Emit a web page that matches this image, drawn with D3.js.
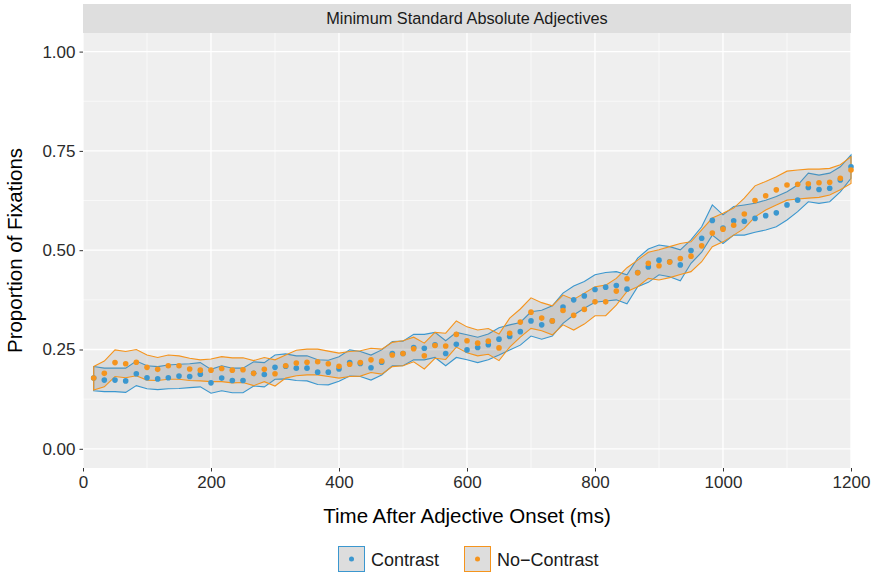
<!DOCTYPE html>
<html>
<head>
<meta charset="utf-8">
<script src="https://cdn.jsdelivr.net/npm/d3@7"></script>
<style>
  body { margin: 0; background: #fff; }
  svg { display: block; font-family: "Liberation Sans", Arial, sans-serif; }
</style>
</head>
<body>
<svg id="chart" width="878" height="573"></svg>
<script>
// time bins (ms after adjective onset)
const timeMs = [16.7, 33.3, 50, 66.7, 83.3, 100, 116.7, 133.3, 150, 166.7, 183.3, 200,
  216.7, 233.3, 250, 266.7, 283.3, 300, 316.7, 333.3, 350, 366.7, 383.3, 400,
  416.7, 433.3, 450, 466.7, 483.3, 500, 516.7, 533.3, 550, 566.7, 583.3, 600,
  616.7, 633.3, 650, 666.7, 683.3, 700, 716.7, 733.3, 750, 766.7, 783.3, 800,
  816.7, 833.3, 850, 866.7, 883.3, 900, 916.7, 933.3, 950, 966.7, 983.3, 1000,
  1016.7, 1033.3, 1050, 1066.7, 1083.3, 1100, 1116.7, 1133.3, 1150, 1166.7, 1183.3, 1200];

// Contrast
const contrastMean = [.178,.173,.173,.171,.189,.179,.176,.179,.183,.182,
  .188,.166,.178,.172,.172,.190,.187,.205,.208,.203,
  .203,.193,.193,.201,.217,.215,.204,.218,.240,.240,
  .255,.253,.262,.240,.263,.249,.255,.262,.276,.283,
  .295,.322,.312,.322,.357,.375,.385,.401,.407,.411,
  .402,.444,.458,.475,.471,.463,.499,.530,.575,.556,
  .574,.573,.580,.587,.594,.614,.626,.658,.653,.656,
  .677,.710];
const contrastUpper = [.207,.203,.203,.203,.221,.209,.207,.211,.213,.214,
  .217,.200,.209,.203,.203,.219,.217,.236,.239,.234,
  .234,.224,.223,.232,.249,.245,.236,.249,.270,.271,
  .288,.288,.293,.272,.293,.287,.281,.289,.305,.312,
  .318,.345,.349,.360,.392,.410,.421,.438,.444,.446,
  .438,.480,.503,.513,.509,.501,.526,.559,.614,.589,
  .610,.614,.618,.626,.635,.647,.664,.694,.689,.694,
  .710,.740];
const contrastLower = [.146,.144,.144,.142,.159,.151,.149,.151,.152,.154,
  .156,.140,.146,.141,.141,.158,.156,.175,.176,.172,
  .171,.162,.161,.170,.183,.182,.173,.186,.209,.209,
  .224,.224,.230,.209,.230,.224,.217,.224,.236,.249,
  .261,.284,.276,.284,.316,.337,.354,.369,.372,.375,
  .365,.408,.419,.438,.433,.423,.467,.495,.538,.517,
  .538,.538,.545,.551,.559,.576,.597,.622,.618,.622,
  .647,.681];

// No-Contrast
const noContrastMean = [.178,.190,.217,.214,.218,.205,.200,.209,.209,.201,
  .198,.198,.202,.198,.199,.190,.200,.189,.209,.216,
  .218,.219,.214,.208,.213,.217,.224,.221,.236,.240,
  .252,.234,.260,.259,.288,.272,.266,.271,.254,.291,
  .319,.344,.329,.322,.348,.336,.351,.370,.370,.397,
  .428,.443,.467,.461,.470,.479,.485,.511,.543,.553,
  .563,.591,.625,.637,.652,.664,.666,.667,.670,.671,
  .681,.702];
const noContrastUpper = [.207,.221,.249,.245,.250,.236,.230,.236,.234,.228,
  .224,.226,.232,.229,.229,.222,.230,.224,.236,.248,
  .251,.251,.246,.241,.245,.247,.253,.251,.268,.272,
  .281,.266,.293,.291,.322,.307,.299,.303,.289,.329,
  .352,.380,.368,.360,.387,.376,.392,.408,.412,.429,
  .456,.475,.495,.501,.509,.517,.521,.551,.581,.593,
  .606,.631,.662,.673,.685,.699,.702,.704,.704,.706,
  .715,.735];
const noContrastLower = [.148,.156,.182,.179,.184,.173,.172,.175,.175,.172,
  .171,.169,.169,.166,.167,.159,.169,.158,.178,.184,
  .186,.186,.182,.178,.182,.183,.192,.188,.207,.209,
  .219,.201,.228,.225,.256,.242,.234,.238,.222,.256,
  .281,.303,.297,.287,.312,.299,.314,.335,.335,.362,
  .396,.408,.429,.425,.431,.439,.446,.471,.509,.521,
  .538,.555,.584,.601,.614,.626,.629,.631,.633,.639,
  .652,.668];

const conditions = ['Contrast', 'No\u2212Contrast'];
const xTicks = [0, 200, 400, 600, 800, 1000, 1200];
const xMinor = [100, 300, 500, 700, 900, 1100];
const yTicks = [0, 0.25, 0.5, 0.75, 1];
const yMinor = [0.125, 0.375, 0.625, 0.875];

const colors = { 'Contrast': '#3b97cf', 'No\u2212Contrast': '#f5941d' };

const series = [
  { name: conditions[0], mean: contrastMean, lo: contrastLower, hi: contrastUpper },
  { name: conditions[1], mean: noContrastMean, lo: noContrastLower, hi: noContrastUpper }
];

// layout
const svg = d3.select('#chart');
const panel = { left: 83, right: 851, top: 33, bottom: 468 };

const xScale = d3.scaleLinear().domain([0, 1200]).range([panel.left, panel.right]);
const yScale = d3.scaleLinear().domain([0, 1]).range([448.8, 51.6]);

// facet strip
svg.append('rect')
  .attr('x', panel.left).attr('y', 4)
  .attr('width', panel.right - panel.left).attr('height', panel.top - 4)
  .attr('fill', '#dedede');
svg.append('text')
  .attr('x', (panel.left + panel.right) / 2).attr('y', 24)
  .attr('text-anchor', 'middle')
  .style('font-size', '16.3px').style('fill', '#1a1a1a')
  .text('Minimum Standard Absolute Adjectives');

// panel background + grid
svg.append('rect')
  .attr('x', panel.left).attr('y', panel.top)
  .attr('width', panel.right - panel.left).attr('height', panel.bottom - panel.top)
  .attr('fill', '#efefef');

let grid = svg.append('g');
grid.selectAll('.xminor').data(xMinor).join('line')
  .attr('x1', d => xScale(d)).attr('x2', d => xScale(d))
  .attr('y1', panel.top).attr('y2', panel.bottom)
  .attr('stroke', '#fff').attr('stroke-width', 0.6);
grid.selectAll('.yminor').data(yMinor).join('line')
  .attr('y1', d => yScale(d)).attr('y2', d => yScale(d))
  .attr('x1', panel.left).attr('x2', panel.right)
  .attr('stroke', '#fff').attr('stroke-width', 0.6);
grid.selectAll('.xmajor').data(xTicks).join('line')
  .attr('x1', d => xScale(d)).attr('x2', d => xScale(d))
  .attr('y1', panel.top).attr('y2', panel.bottom)
  .attr('stroke', '#fff').attr('stroke-width', 1.3);
grid.selectAll('.ymajor').data(yTicks).join('line')
  .attr('y1', d => yScale(d)).attr('y2', d => yScale(d))
  .attr('x1', panel.left).attr('x2', panel.right)
  .attr('stroke', '#fff').attr('stroke-width', 1.3);

// ribbons
const area = d3.area()
  .x(d => xScale(d.t))
  .y0(d => yScale(d.lo))
  .y1(d => yScale(d.hi));

series.forEach(s => {
  let rows = timeMs.map((t, i) => ({ t: t, lo: s.lo[i], hi: s.hi[i] }));
  svg.append('path')
    .datum(rows)
    .attr('d', d => area(d) + 'Z')
    .attr('fill', 'rgba(127,127,127,0.18)')
    .attr('stroke', colors[s.name])
    .attr('stroke-width', 1.1)
    .attr('stroke-linejoin', 'miter');
});

// points
series.forEach(s => {
  svg.append('g').selectAll('circle')
    .data(timeMs.map((t, i) => ({ t: t, v: s.mean[i] })))
    .join('circle')
    .attr('cx', d => xScale(d.t))
    .attr('cy', d => yScale(d.v))
    .attr('r', 2.8)
    .attr('fill', colors[s.name]);
});

// axes
const yAxis = svg.append('g')
  .attr('transform', `translate(${panel.left},0)`)
  .call(d3.axisLeft(yScale).tickValues(yTicks).tickFormat(d3.format('.2f')).tickSize(3.5).tickPadding(4));
const xAxis = svg.append('g')
  .attr('transform', `translate(0,${panel.bottom})`)
  .call(d3.axisBottom(xScale).tickValues(xTicks).tickFormat(d3.format('d')).tickSize(3.5).tickPadding(4));
[yAxis, xAxis].forEach(a => {
  a.select('.domain').remove();
  a.selectAll('.tick line').attr('stroke', '#333');
  a.selectAll('.tick text').style('font-size', '17px').style('fill', '#2b2b2b')
    .style('font-family', '"Liberation Sans", Arial, sans-serif');
});

// axis titles
svg.append('text')
  .attr('x', (panel.left + panel.right) / 2).attr('y', 523)
  .attr('text-anchor', 'middle')
  .style('font-size', '20.5px').style('fill', '#000')
  .text('Time After Adjective Onset (ms)');
svg.append('text')
  .attr('transform', `translate(22,${(panel.top + panel.bottom) / 2}) rotate(-90)`)
  .attr('text-anchor', 'middle')
  .style('font-size', '20.5px').style('fill', '#000')
  .text('Proportion of Fixations');

// legend
const legendX = [338, 464];
const legend = svg.append('g');
series.forEach((s, i) => {
  let lg = legend.append('g').attr('transform', `translate(${legendX[i]},546)`);
  lg.append('rect')
    .attr('x', 0.5).attr('y', 0.5).attr('width', 26).attr('height', 25)
    .attr('fill', '#f2f2f2');
  lg.append('rect')
    .attr('x', 0.5).attr('y', 0.5).attr('width', 26).attr('height', 25)
    .attr('fill', 'rgba(127,127,127,0.18)')
    .attr('stroke', colors[s.name]).attr('stroke-width', 1);
  lg.append('circle')
    .attr('cx', 13.5).attr('cy', 13).attr('r', 2.5)
    .attr('fill', colors[s.name]);
  lg.append('text')
    .attr('x', 33).attr('y', 19.5)
    .style('font-size', '18px').style('fill', '#1a1a1a')
    .text(s.name);
});
</script>
</body>
</html>
